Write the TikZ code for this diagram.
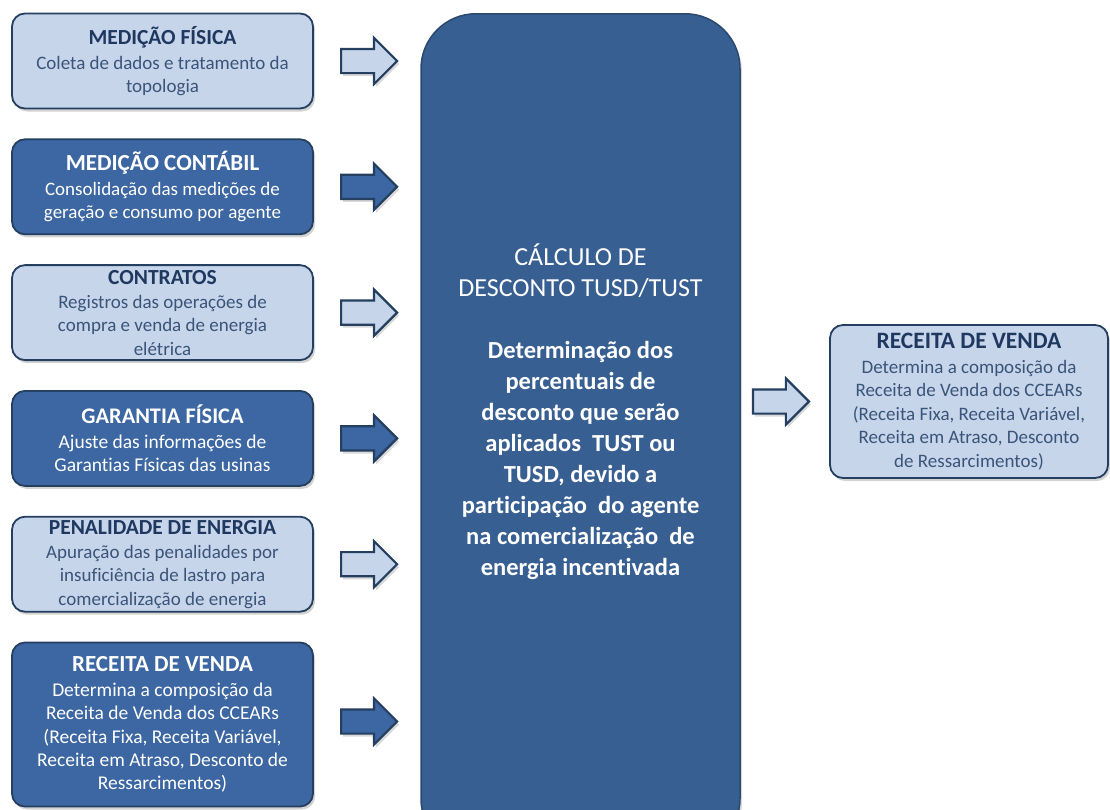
\documentclass[tikz,border=0pt]{standalone}
\usepackage{fontspec}
\setmainfont{Carlito}[Ligatures=NoCommon]
\usetikzlibrary{shapes.arrows,shadows,calc,positioning}

\definecolor{clarofundo}{RGB}{198,213,234}
\definecolor{escurofundo}{RGB}{60,103,162}
\definecolor{centrofundo}{RGB}{55,95,145}
\definecolor{centroborda}{RGB}{42,72,112}
\definecolor{borda}{RGB}{36,63,96}
\definecolor{titclaro}{RGB}{31,56,95}
\definecolor{txtclaro}{RGB}{58,84,122}

\newcommand{\etapa}[3][21.5]{{\bfseries\fontsize{#1}{24}\selectfont\color{cortit}#2}\\[1.5pt]#3}
\newcommand{\titcentro}[1]{{\mdseries\fontsize{26}{31}\selectfont #1}}

\tikzset{
  caixa/.style={rectangle, rounded corners=13pt, draw=borda, line width=1.8pt,
    minimum width=301pt, minimum height=95pt, align=center, inner sep=0pt,
    font=\fontsize{19}{23.2}\selectfont,
    drop shadow={opacity=0.35, shadow xshift=2pt, shadow yshift=-3pt}},
  clara/.style={caixa, fill=clarofundo, text=txtclaro,
    execute at begin node={\colorlet{cortit}{titclaro}}},
  escura/.style={caixa, fill=escurofundo, text=white,
    execute at begin node={\colorlet{cortit}{white}}},
  seta/.style={single arrow, draw=borda, line width=2.2pt, minimum height=56pt,
    inner sep=0pt, inner ysep=11pt, single arrow head extend=11pt,
    drop shadow={opacity=0.3, shadow xshift=2pt, shadow yshift=-3pt}},
  setaclara/.style={seta, fill=clarofundo},
  setaescura/.style={seta, fill=escurofundo},
  centro/.style={rectangle, rounded corners=55pt, draw=centroborda,
    line width=1.5pt, fill=centrofundo, minimum width=319pt, minimum height=840pt,
    drop shadow={opacity=0.3, shadow xshift=2pt, shadow yshift=-3pt}},
  centrotxt/.style={align=center, text=white, inner sep=0pt,
    font=\fontsize{24.5}{31}\selectfont\bfseries}
}

\begin{document}
\begin{tikzpicture}[x=1pt, y=-1pt, node distance=29pt]
  \clip (0,0) rectangle (1110,809);

  % Etapas de entrada
  \node[clara] (b1) at (162.5,61) {\etapa{MEDIÇÃO FÍSICA}{Coleta de dados e tratamento da\\topologia}};
  \node[escura, below=of b1] (b2) {\etapa[23]{MEDIÇÃO CONTÁBIL}{Consolidação das medições de\\geração e consumo por agente}};
  \node[clara, below=of b2] (b3) {\etapa{CONTRATOS}{Registros das operações de\\compra e venda de energia\\elétrica}};
  \node[escura, below=of b3, font=\fontsize{19.5}{23.2}\selectfont] (b4) {\etapa[22.3]{GARANTIA FÍSICA}{Ajuste das informações de\\Garantias Físicas das usinas}};
  \node[clara, below=of b4] (b5) {\etapa{PENALIDADE DE ENERGIA}{Apuração das penalidades por\\insuficiência de lastro para\\comercialização de energia}};
  \node[escura, below=of b5, minimum height=164pt, font=\fontsize{19.5}{23.4}\selectfont] (b6)
    {\etapa[23]{RECEITA DE VENDA}{Determina a composição da\\Receita de Venda dos CCEARs\\(Receita Fixa, Receita Variável,\\Receita em Atraso, Desconto de\\Ressarcimentos)}};

  % Bloco central
  \node[centro, anchor=north] (calc) at (580.5,13) {};
  \node[centrotxt] (calctxt) at ([yshift=-399pt]calc.north)
    {\titcentro{CÁLCULO DE}\\\titcentro{DESCONTO TUSD/TUST}\\[31pt]
     Determinação dos\\percentuais de\\desconto que serão\\aplicados\ \ TUST ou\\TUSD, devido a\\participação\ \ do agente\\na comercialização\ \ de\\energia incentivada};

  % Saida
  \node[clara, minimum width=278pt, minimum height=153pt, font=\fontsize{19}{23.4}\selectfont] (rv) at (969,401.5)
    {\etapa[23.5]{RECEITA DE VENDA}{Determina a composição da\\Receita de Venda dos CCEARs\\(Receita Fixa, Receita Variável,\\Receita em Atraso, Desconto\\de Ressarcimentos)}};

  % Setas
  \foreach \i/\tipo/\dy in {1/clara/0, 2/escura/0, 3/clara/0, 4/escura/0, 5/clara/0, 6/escura/3}
    \node[seta\tipo, xshift=-4pt, yshift=\dy pt] (s\i) at ($(b\i.east)!0.5!(b\i.east -| calc.west)$) {};
  \node[setaclara, xshift=-10pt] (s7) at ($(calc.east |- rv.west)!0.5!(rv.west)$) {};
\end{tikzpicture}
\end{document}
